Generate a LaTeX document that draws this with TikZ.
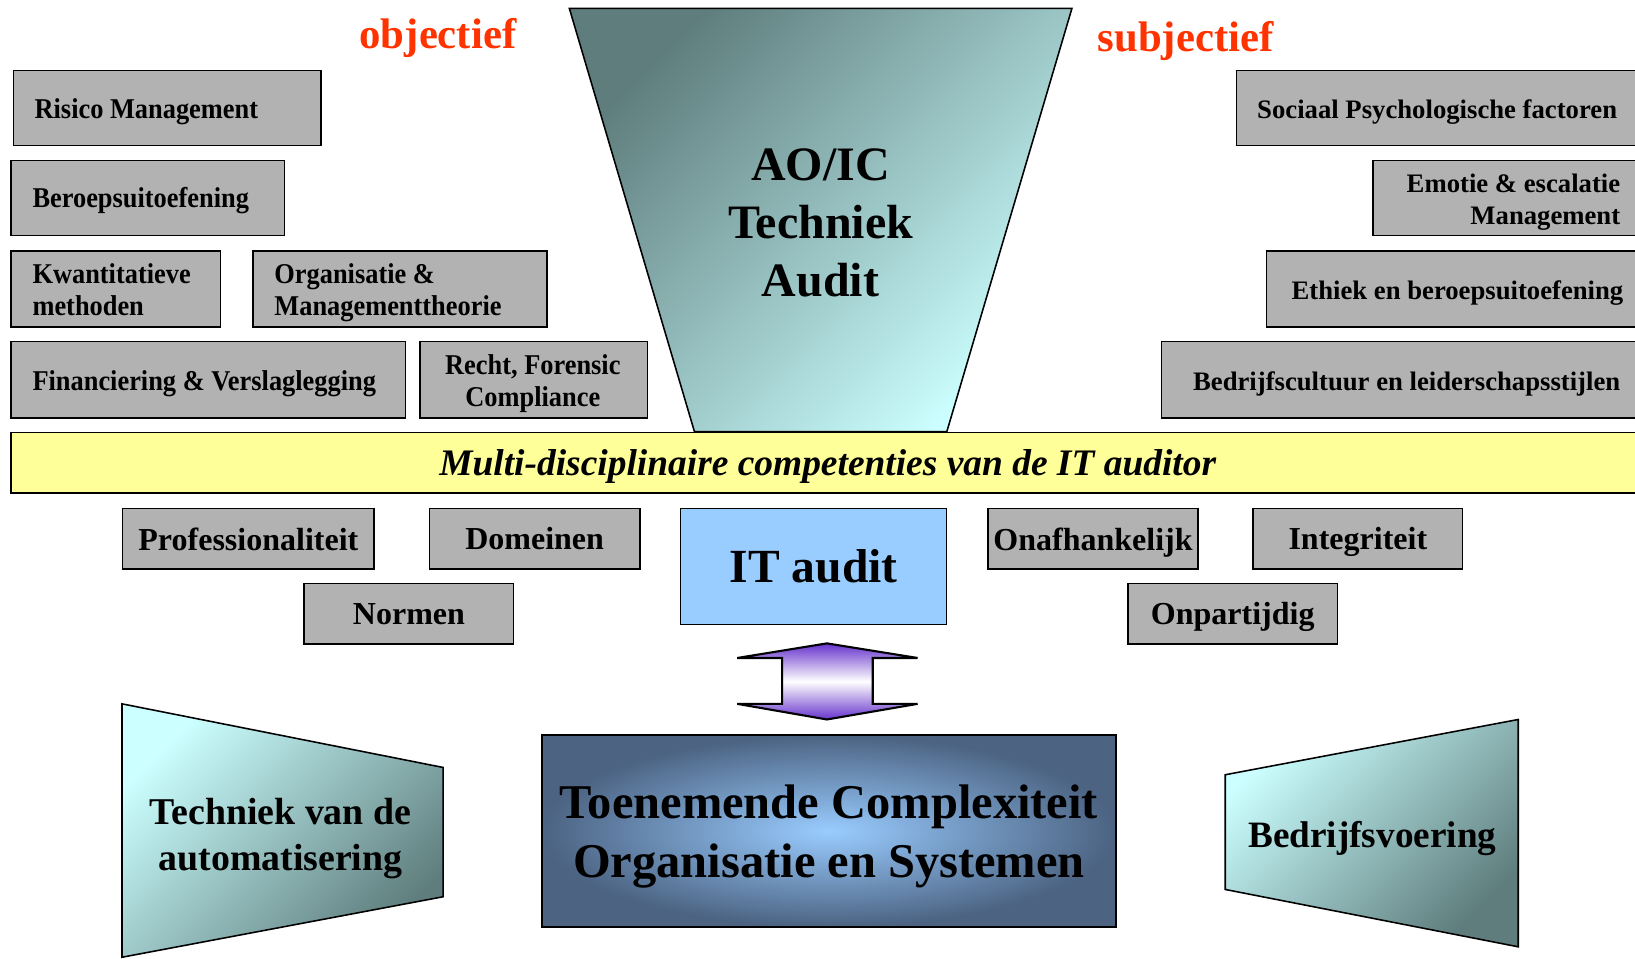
\documentclass[tikz,border=0pt]{standalone}
\usepackage{fontspec}
\setmainfont{Liberation Serif}
\newfontfamily\condserif{Liberation Serif}[FakeStretch=0.92]
\definecolor{boxgray}{RGB}{178,178,178}
\definecolor{tealdark}{RGB}{95,125,125}
\definecolor{cyanlight}{RGB}{204,255,255}
\definecolor{itblue}{RGB}{153,204,255}
\definecolor{bandyellow}{RGB}{255,255,153}
\definecolor{slate}{RGB}{76,99,130}
\definecolor{arrowpurple}{RGB}{102,51,204}
\definecolor{redorange}{RGB}{255,51,0}
\newcommand\gb[5]{%
  \pgfmathsetmacro\gbw{#4-#2}\pgfmathsetmacro\gbh{#5-#3}%
  \node[gbox,anchor=north west,minimum width=\gbw pt,minimum height=\gbh pt] (#1) at (#2,#3) {};}
\newcommand\mb[6]{%
  \pgfmathsetmacro\gbw{#4-#2}\pgfmathsetmacro\gbh{#5-#3}%
  \node[gbox,mtext,anchor=north west,minimum width=\gbw pt,minimum height=\gbh pt] (#1) at (#2,#3) {#6};}
\begin{document}
\begin{tikzpicture}[x=1pt,y=-1pt,
  gbox/.style={draw=black,line width=1.4pt,fill=boxgray,inner sep=0pt},
  ltext/.style={inner sep=0pt,font=\condserif\bfseries\fontsize{27.5}{31}\selectfont,align=left},
  rtext/.style={inner sep=0pt,font=\bfseries\fontsize{25.6}{31}\selectfont,align=right},
  mtext/.style={font=\bfseries\fontsize{30.7}{36}\selectfont,text depth=0pt},
  bigtext/.style={font=\bfseries\fontsize{46}{55.5}\selectfont,align=center,inner sep=0pt},
  redtext/.style={font=\bfseries\fontsize{41}{48}\selectfont,text=redorange,inner sep=0pt},
  trapfill/.style={draw=black,line width=1.5pt,top color=cyanlight,bottom color=tealdark,shading angle=45},
  funnelfill/.style={draw=black,line width=1.5pt,top color=tealdark,bottom color=cyanlight,shading angle=45},
]
\useasboundingbox (0,0) rectangle (1568,919);
\clip (0,0) rectangle (1568,919);

% top labels
\node[redtext] (obj) at (420,36) {objectief};
\node[redtext] (subj) at (1137,39) {subjectief};

% funnel
\draw[funnelfill] (546,8) -- (1028,8) -- (908,414) -- (666,414) -- cycle;
\node[bigtext] (aoic) at (787,214) {AO/IC\\Techniek\\Audit};

% left boxes
\gb{risk}{12}{67}{307}{139}
\node[ltext,anchor=west] (riskt) at (33,107) {Risico Management};
\gb{beroep}{10}{153}{272}{225}
\node[ltext,anchor=west] (beroept) at (31,192) {Beroepsuitoefening};
\gb{kwant}{10}{240}{211}{313}
\node[ltext,anchor=west] (kwantt) at (31,277.5) {Kwantitatieve\\methoden};
\gb{org}{242}{240}{524}{313}
\node[ltext,anchor=west] (orgt) at (263,281) {Organisatie \&\\Managementtheorie};
\gb{fin}{10}{327}{388}{400}
\node[ltext,anchor=west] (fint) at (31,368) {Financiering \& Verslaglegging};
\gb{recht}{402}{327}{620}{400}
\node[ltext,align=center] (rechtt) at (511,368) {Recht, Forensic\\Compliance};

% right boxes
\gb{soc}{1185}{67}{1590}{139}
\node[rtext,anchor=east] (soct) at (1551,107) {Sociaal Psychologische factoren};
\gb{emo}{1316}{153}{1590}{225}
\node[rtext,anchor=east] (emot) at (1554,194) {Emotie \& escalatie\\Management};
\gb{eth}{1214}{240}{1590}{313}
\node[rtext,anchor=east] (etht) at (1557,281) {Ethiek en beroepsuitoefening};
\gb{bed}{1113}{327}{1590}{400}
\node[rtext,anchor=east] (bedt) at (1554,368) {Bedrijfscultuur en leiderschapsstijlen};

% band
\node[draw=black,line width=1.5pt,fill=bandyellow,anchor=north west,minimum width=1566pt,minimum height=58pt,inner sep=0pt,
      text depth=0pt,font=\bfseries\itshape\fontsize{35.9}{40}\selectfont] (band) at (10,414) {Multi-disciplinaire competenties van de IT auditor};

% middle boxes
\mb{prof}{117}{487}{358}{545}{Professionaliteit}
\mb{dom}{411}{487}{613}{545}{Domeinen}
\mb{onafh}{947}{487}{1148}{545}{Onafhankelijk}
\mb{integ}{1201}{487}{1402}{545}{Integriteit}
\mb{normen}{291}{559}{492}{617}{Normen}
\mb{onpart}{1081}{559}{1282}{617}{Onpartijdig}
\node[draw=black,line width=1.5pt,fill=itblue,anchor=north west,minimum width=255pt,minimum height=111pt,inner sep=0pt,
      font=\bfseries\fontsize{45.6}{55}\selectfont] (itaudit) at (652,487) {IT audit};

% double arrow
\draw[line width=2pt,line join=miter,top color=arrowpurple,bottom color=arrowpurple,middle color=white]
  (707,631) -- (793,617) -- (880,631) -- (837,631) -- (837,675) -- (880,675) -- (793,690)
  -- (707,675) -- (750,675) -- (750,631) -- cycle;

% central box
\node[draw=black,line width=2pt,shading=radial,inner color=itblue,outer color=slate,anchor=north west,
      minimum width=550pt,minimum height=184pt,inner sep=0pt,align=center,text depth=0pt,
      font=\bfseries\fontsize{46.5}{56}\selectfont] (complex) at (519,704) {Toenemende Complexiteit\\Organisatie en Systemen};

% trapezoids
\draw[trapfill] (117,675) -- (425,736) -- (425,860) -- (117,918) -- cycle;
\node[font=\bfseries\fontsize{36.3}{43.5}\selectfont,align=center,inner sep=0pt] (tech) at (269,804) {Techniek van de\\automatisering};
\draw[trapfill] (1175,743) -- (1456,690) -- (1456,908) -- (1175,853) -- cycle;
\node[font=\bfseries\fontsize{35.7}{43}\selectfont,inner sep=0pt] (bedrijf) at (1316,804) {Bedrijfsvoering};
\end{tikzpicture}
\end{document}
